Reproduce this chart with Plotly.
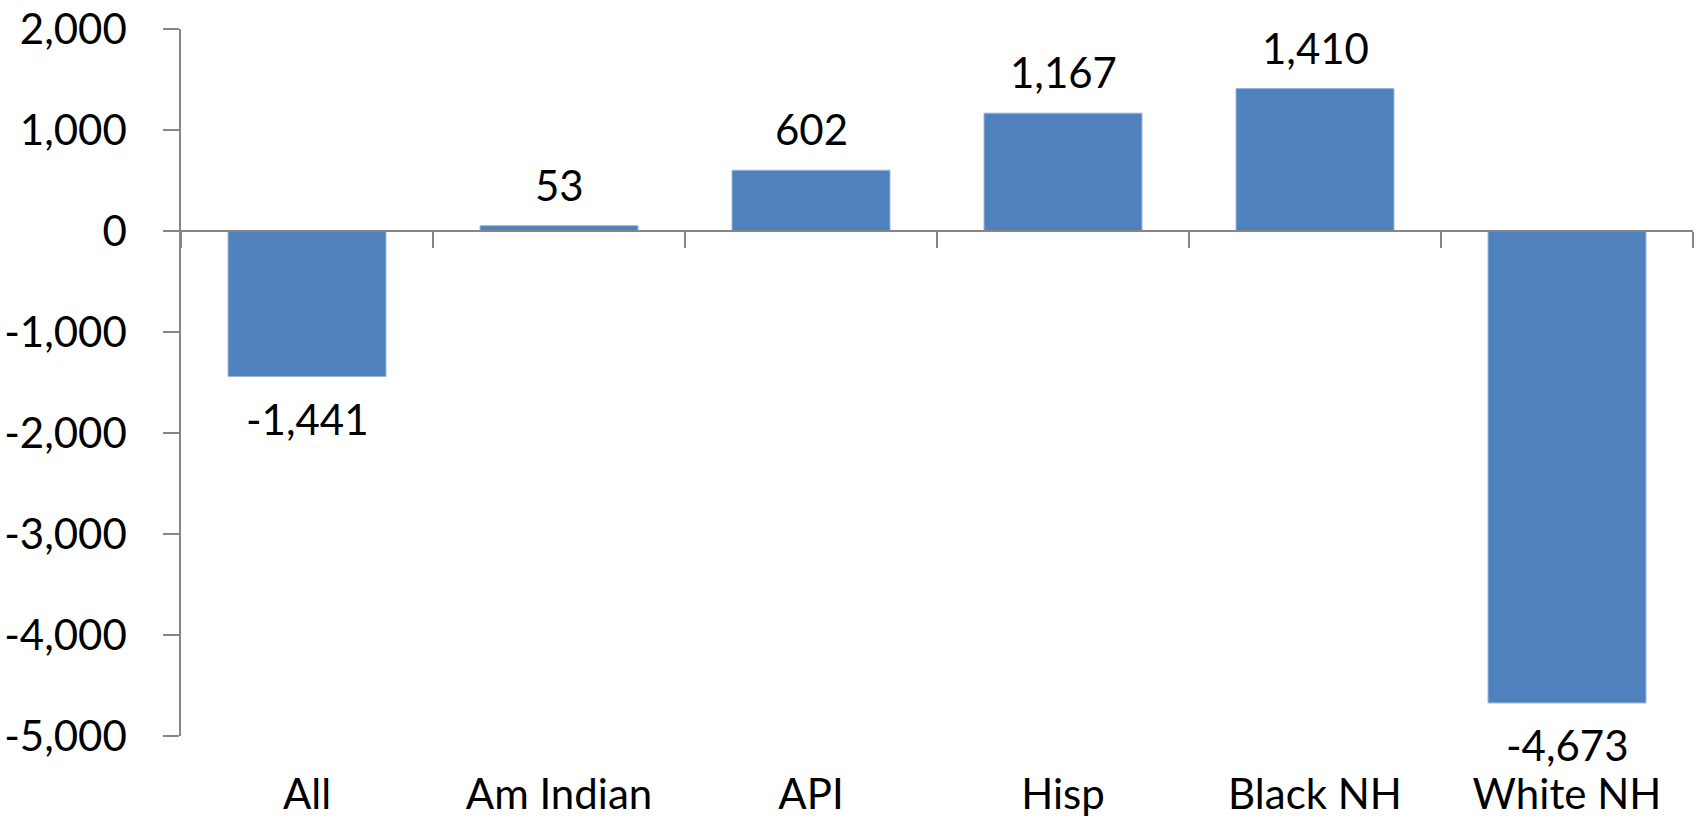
import plotly.graph_objects as go

categories = ["All", "Am Indian", "API", "Hisp", "Black NH", "White NH"]
values = [-1441, 53, 602, 1167, 1410, -4673]
y_ticks = [2000, 1000, 0, -1000, -2000, -3000, -4000, -5000]
y_tick_labels = ["2,000", "1,000", "0", "-1,000", "-2,000", "-3,000", "-4,000", "-5,000"]

BAR = "#4F81BD"
AXIS = "#868686"
FONT = "Lato"
FS = 42
YMIN, YMAX = -5000, 2000

fig = go.Figure()
fig.add_trace(go.Bar(
    x=categories, y=values, width=0.627,
    marker=dict(color=BAR, line=dict(color="#9db7dc", width=1)),
    hoverinfo="skip", showlegend=False,
))
# invisible trace to carry the zero-level category axis
fig.add_trace(go.Scatter(
    x=categories, y=values, xaxis="x2", mode="markers",
    marker=dict(opacity=0), hoverinfo="skip", showlegend=False,
))

for c, v in zip(categories, values):
    pos = v >= 0
    fig.add_annotation(
        x=c, y=v, text=f"{v:,}", showarrow=False,
        yanchor="bottom" if pos else "top",
        yshift=14 if pos else -15,
        font=dict(family=FONT, size=FS, color="black"),
    )

fig.update_layout(
    width=1698, height=820,
    margin=dict(l=181, r=5, t=29, b=84, autoexpand=False),
    paper_bgcolor="white", plot_bgcolor="white",
    font=dict(family=FONT, size=FS, color="black"),
    xaxis=dict(
        type="category", categoryorder="array", categoryarray=categories,
        range=[-0.5, 5.5], showline=False, ticks="", showgrid=False,
        zeroline=False, ticklabelstandoff=30, automargin=False,
        tickfont=dict(family=FONT, size=FS, color="black"),
    ),
    xaxis2=dict(
        type="category", categoryorder="array", categoryarray=categories,
        range=[-0.5, 5.5], overlaying="x", anchor="free",
        position=(0 - YMIN) / (YMAX - YMIN), automargin=False,
        showline=True, linecolor=AXIS, linewidth=1.5,
        ticks="outside", tickson="boundaries", ticklen=16,
        tickcolor=AXIS, tickwidth=1.5,
        showticklabels=False, showgrid=False, zeroline=False,
    ),
    yaxis=dict(
        range=[YMIN, YMAX], tickvals=y_ticks, ticktext=y_tick_labels,
        showline=True, linecolor=AXIS, linewidth=1.5, automargin=False,
        ticks="outside", ticklen=16, tickcolor=AXIS, tickwidth=1.5,
        showgrid=False, zeroline=False, ticklabelstandoff=28,
        tickfont=dict(family=FONT, size=FS, color="black"),
    ),
)

fig.write_html(
    "out.html",
    config={"displayModeBar": False},
    post_script="document.body.style.margin='0';document.body.style.overflow='hidden';",
)
